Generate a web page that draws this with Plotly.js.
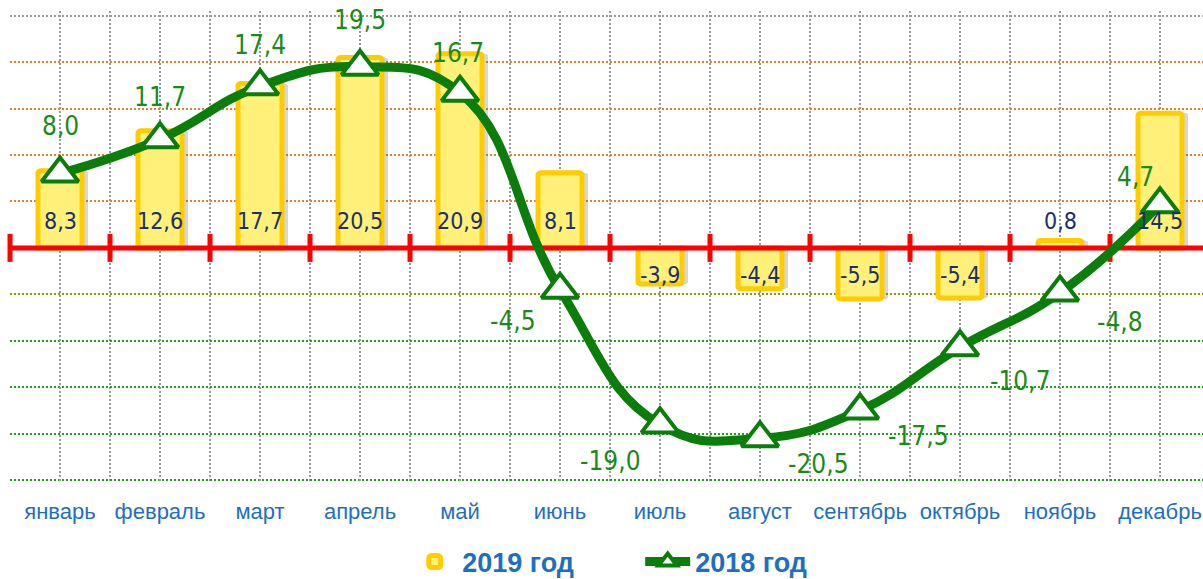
<!DOCTYPE html>
<html>
<head>
<meta charset="utf-8">
<script src="https://cdn.plot.ly/plotly-3.0.1.min.js"></script>
<style>
html,body{margin:0;padding:0;overflow:hidden;background:#fff;}
#chart{width:1220px;height:579px;}
</style>
</head>
<body>
<div id="chart"></div>
<script>
// ---- data ----
const months = ['январь','февраль','март','апрель','май','июнь','июль','август','сентябрь','октябрь','ноябрь','декабрь'];
const values2019 = [8.3, 12.6, 17.7, 20.5, 20.9, 8.1, -3.9, -4.4, -5.5, -5.4, 0.8, 14.5];
const values2018 = [8.0, 11.7, 17.4, 19.5, 16.7, -4.5, -19.0, -20.5, -17.5, -10.7, -4.8, 4.7];
const seriesNames = ['2019 год', '2018 год'];

// ---- styling helpers (not data) ----
const lineLabelShift = [[0,48],[0,42],[0,41],[0,47],[-2,40],[-47,-31],[-50,-37],[58,-26],[58,-26],[60,-34],[60,-30],[-25,27]];
const idx = months.map((m, i) => i);
const boundaries = months.map((m, i) => i - 0.5).concat([months.length - 0.5]);
const fmt = v => v.toFixed(1).replace('.', ',');

const NARROW = '"DejaVu Sans Condensed", "Liberation Sans Narrow", sans-serif';
const BLUE = '#1f6fc0';
const GREEN = '#0a7d0a';

const barShadow = {
  type: 'bar', x: idx, y: values2019, width: 0.44, offset: -0.16,
  marker: { color: 'rgba(110,110,110,0.28)', line: { width: 0 }, cornerradius: 3 },
  showlegend: false, hoverinfo: 'none'
};

const bars = {
  type: 'bar', name: seriesNames[0], x: idx, y: values2019,
  width: 0.44, offset: -0.22,
  marker: { color: '#FFF07A', line: { color: '#FFCC00', width: 5 }, cornerradius: 3 },
  hoverinfo: 'none'
};

const zeroAxis = {
  type: 'scatter', x: boundaries, y: boundaries.map(() => 0),
  mode: 'lines+markers', showlegend: false, cliponaxis: false, hoverinfo: 'none',
  line: { color: '#FF0000', width: 5 },
  marker: { symbol: 'line-ns', size: 20, color: '#FF0000', line: { color: '#FF0000', width: 5 } }
};

const line = {
  type: 'scatter', name: seriesNames[1], x: idx, y: values2018,
  mode: 'lines+markers', cliponaxis: false, hoverinfo: 'none',
  line: { color: GREEN, width: 9, shape: 'spline', smoothing: 1.3 },
  marker: { symbol: 'triangle-up', size: 32, color: '#FFFFFF', line: { color: GREEN, width: 4 } }
};

const annotations = [];
values2019.forEach((v, i) => {
  annotations.push({
    x: i, y: 0, xref: 'x', yref: 'y', text: fmt(v), showarrow: false,
    yshift: v >= 0 ? 27 : -27,
    font: { family: NARROW, size: 23, color: '#1b2f6b' }
  });
});
values2018.forEach((v, i) => {
  annotations.push({
    x: i, y: v, xref: 'x', yref: 'y', text: fmt(v), showarrow: false,
    xshift: lineLabelShift[i][0], yshift: lineLabelShift[i][1],
    font: { family: NARROW, size: 26, color: '#1b8a1b' }
  });
});

const layout = {
  width: 1220, height: 579,
  margin: { l: 10, r: 10, t: 11, b: 97, autoexpand: false },
  paper_bgcolor: '#ffffff', plot_bgcolor: '#ffffff',
  showlegend: true,
  barmode: 'overlay',
  legend: {
    orientation: 'h', x: 0.331, xanchor: 'left', y: -0.17, yanchor: 'middle',
    font: { family: '"Liberation Sans", Arial, sans-serif', size: 27, color: BLUE, weight: 'bold' },
    itemwidth: 45, entrywidth: 173, entrywidthmode: 'pixels', traceorder: 'normal'
  },
  xaxis: {
    type: 'linear', range: [-0.5, 11.5], fixedrange: true,
    tickmode: 'array', tickvals: idx, ticktext: months,
    tickfont: { family: '"Liberation Sans", Arial, sans-serif', size: 22, color: BLUE },
    ticks: '', ticklabelstandoff: 14,
    showgrid: true, gridcolor: '#9a9a9a', gridwidth: 2, griddash: '2px,2px',
    minor: { tickmode: 'linear', tick0: -0.5, dtick: 1, showgrid: true, gridcolor: '#9a9a9a', gridwidth: 2, griddash: '2px,2px', ticks: '' },
    zeroline: false, showline: false
  },
  yaxis: {
    range: [-25.2, 25.5], fixedrange: true,
    tickmode: 'array', tickvals: [5, 10, 15, 20], showticklabels: false, ticks: '',
    showgrid: true, gridcolor: '#E08030', gridwidth: 2, griddash: '2px,2px',
    minor: { tickmode: 'array', tickvals: [-25, -20, -15, -10], showgrid: true, gridcolor: '#22A022', gridwidth: 2, griddash: '2px,2px', ticks: '' },
    zeroline: false, showline: false
  },
  yaxis2: {
    overlaying: 'y', anchor: 'x', range: [-25.2, 25.5], fixedrange: true,
    tickmode: 'array', tickvals: [25], showticklabels: false, ticks: '',
    showgrid: true, gridcolor: '#9a9a9a', gridwidth: 2, griddash: '2px,2px',
    minor: { tickmode: 'array', tickvals: [-5], showgrid: true, gridcolor: '#8a9a00', gridwidth: 2, griddash: '2px,2px', ticks: '' },
    zeroline: false, showline: false
  },
  annotations: annotations,
  bargap: 0
};

const gridHolder = { type: 'scatter', x: [], y: [], yaxis: 'y2', showlegend: false, hoverinfo: 'none' };

Plotly.newPlot('chart', [gridHolder, barShadow, bars, zeroAxis, line], layout, { displayModeBar: false, staticPlot: true });
</script>
</body>
</html>
